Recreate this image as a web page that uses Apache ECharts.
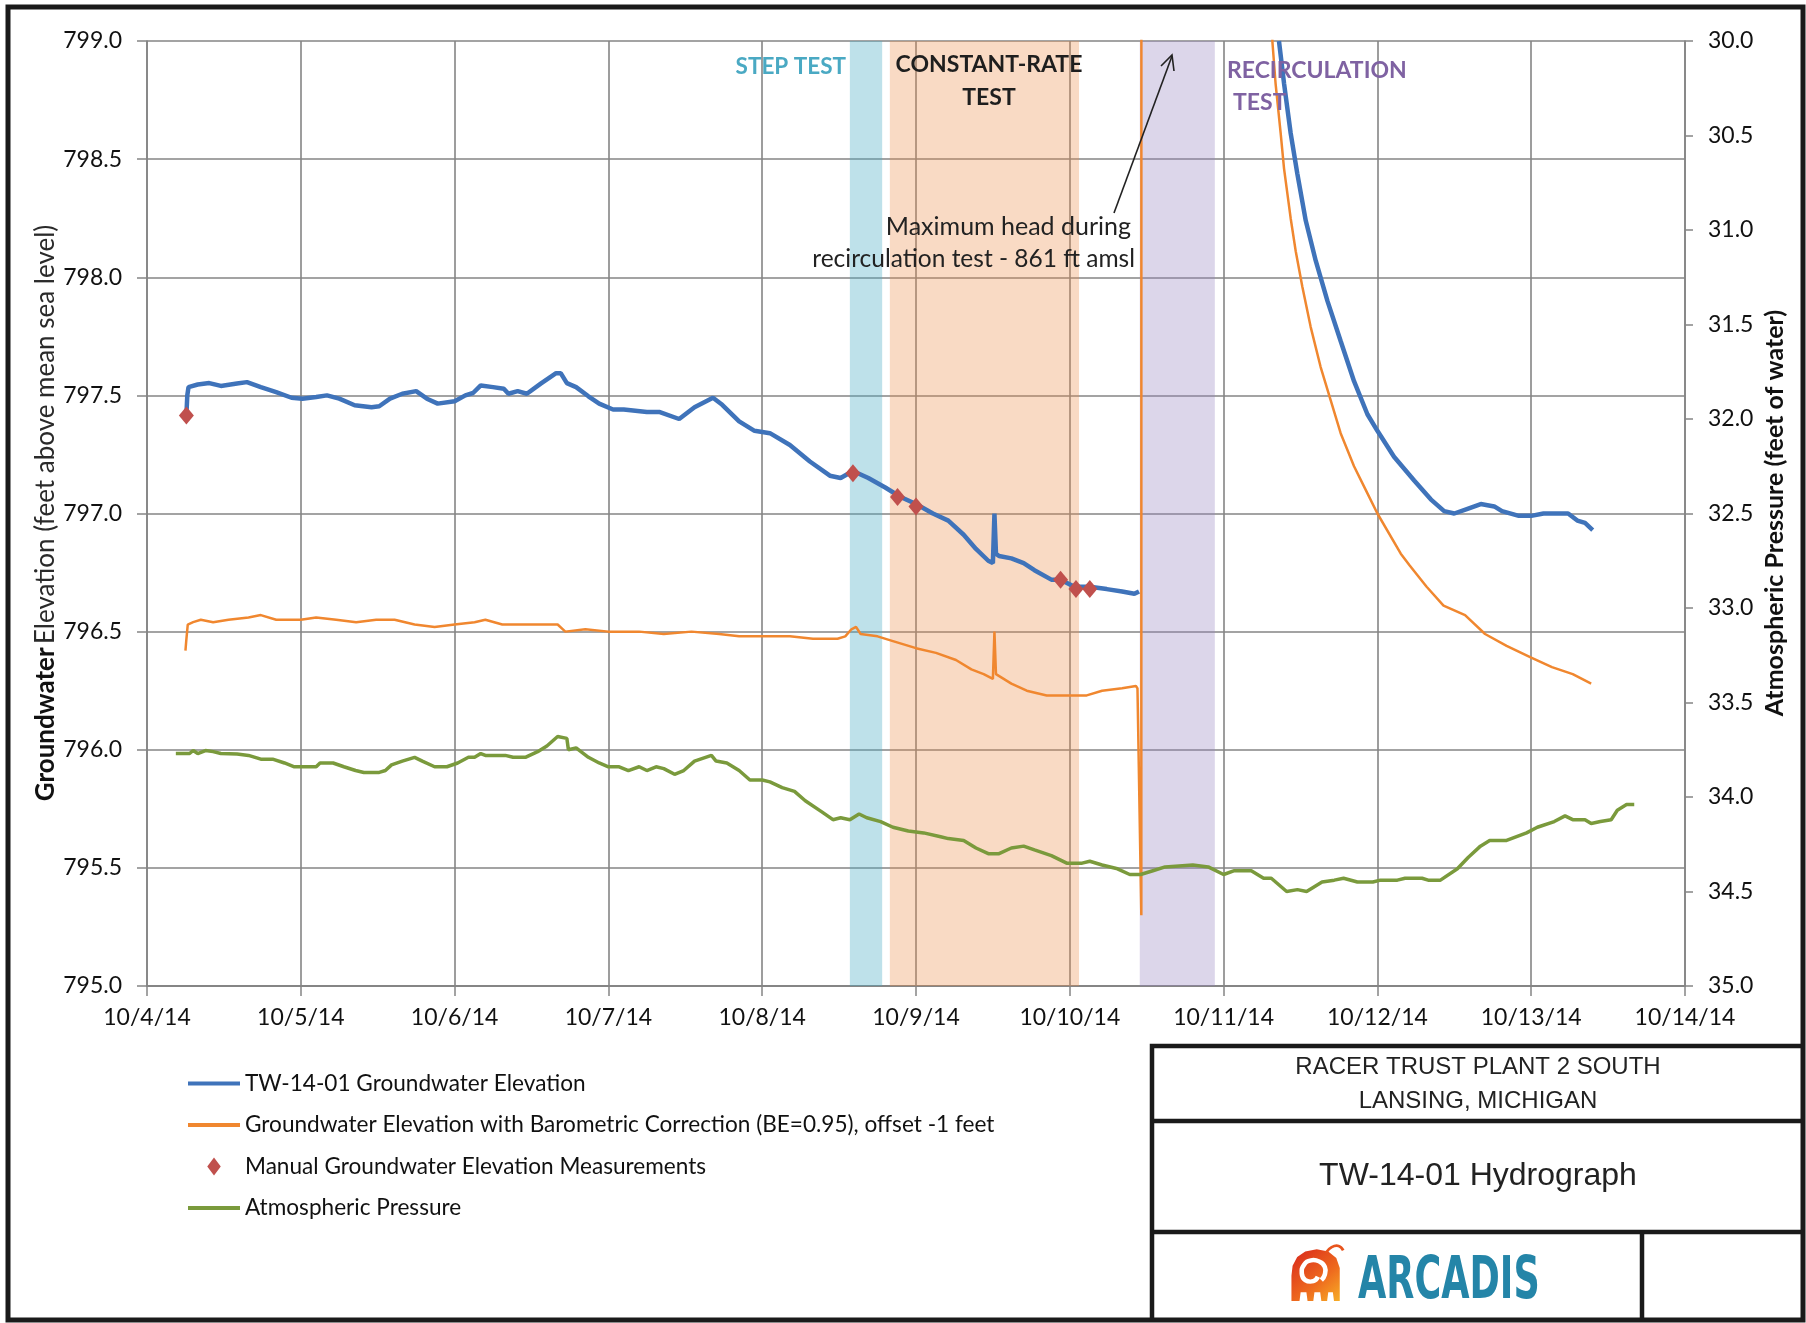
<!DOCTYPE html>
<html>
<head>
<meta charset="utf-8">
<script src="https://cdn.jsdelivr.net/npm/echarts@6/dist/echarts.min.js"></script>
<style>
html,body{margin:0;padding:0;background:#fff;}
#chart{width:1806px;height:1323px;}
</style>
</head>
<body>
<div id="chart"></div>
<script>
// ---- tick labels ----
const xTickLabels = ['10/4/14','10/5/14','10/6/14','10/7/14','10/8/14','10/9/14','10/10/14','10/11/14','10/12/14','10/13/14','10/14/14'];
const leftTickLabels = ['795.0','795.5','796.0','796.5','797.0','797.5','798.0','798.5','799.0'];
const rightTickLabels = ['30.0','30.5','31.0','31.5','32.0','32.5','33.0','33.5','34.0','34.5','35.0'];

// ---- series: [days since 10/4/14, value]; '-' = no data ----
const tw1401Elevation = [
 [0.256,797.415],[0.262,797.50],[0.27,797.535],[0.33,797.546],[0.405,797.552],[0.48,797.54],[0.585,797.55],[0.65,797.556],
 [0.74,797.535],[0.84,797.514],[0.94,797.49],[1.01,797.486],[1.10,797.493],[1.17,797.50],[1.25,797.486],[1.35,797.458],
 [1.46,797.45],[1.51,797.454],[1.58,797.486],[1.66,797.507],[1.75,797.518],[1.82,797.486],[1.89,797.465],[2.0,797.475],
 [2.07,797.50],[2.12,797.51],[2.17,797.542],[2.25,797.535],[2.32,797.528],[2.35,797.507],[2.41,797.518],[2.47,797.507],
 [2.56,797.55],[2.66,797.594],[2.69,797.594],[2.73,797.552],[2.79,797.535],[2.87,797.496],[2.94,797.465],[3.03,797.44],
 [3.10,797.44],[3.25,797.43],[3.33,797.43],[3.46,797.40],[3.56,797.45],[3.68,797.49],[3.74,797.46],[3.85,797.39],
 [3.95,797.35],[4.05,797.34],[4.18,797.29],[4.31,797.22],[4.44,797.16],[4.51,797.15],[4.59,797.18],[4.69,797.15],
 [4.80,797.11],[4.90,797.07],[5.0,797.04],[5.11,797.0],[5.21,796.97],[5.31,796.91],[5.39,796.85],[5.47,796.80],
 [5.50,796.79],[5.51,797.0],[5.52,796.83],[5.54,796.82],[5.62,796.81],[5.70,796.79],[5.77,796.76],[5.88,796.72],
 [5.94,796.72],[6.03,796.69],[6.13,796.69],[6.24,796.68],[6.34,796.67],[6.42,796.66],[6.45,796.67],
 [6.9,'-'],
 [7.36,799.0],[7.393,798.82],[7.436,798.61],[7.479,798.44],[7.534,798.24],[7.599,798.07],[7.675,797.90],[7.761,797.73],
 [7.848,797.56],[7.935,797.42],[8.0,797.35],[8.108,797.24],[8.239,797.14],[8.347,797.06],[8.434,797.01],[8.50,797.0],
 [8.586,797.02],[8.672,797.04],[8.76,797.03],[8.81,797.01],[8.92,796.99],[9.0,796.99],[9.08,797.0],[9.16,797.0],
 [9.24,797.0],[9.30,796.97],[9.35,796.96],[9.40,796.93]
];
const baroCorrected = [
 [0.25,796.42],[0.255,796.46],[0.265,796.53],[0.30,796.54],[0.35,796.55],[0.43,796.54],[0.53,796.55],[0.66,796.56],
 [0.74,796.57],[0.84,796.55],[1.0,796.55],[1.1,796.56],[1.23,796.55],[1.36,796.54],[1.49,796.55],[1.61,796.55],
 [1.74,796.53],[1.87,796.52],[2.0,796.53],[2.13,796.54],[2.20,796.55],[2.31,796.53],[2.38,796.53],[2.51,796.53],
 [2.67,796.53],[2.72,796.50],[2.85,796.51],[3.0,796.50],[3.07,796.50],[3.20,796.50],[3.36,796.49],[3.54,796.50],
 [3.72,796.49],[3.85,796.48],[4.0,796.48],[4.18,796.48],[4.33,796.47],[4.49,796.47],[4.54,796.48],[4.58,796.51],
 [4.61,796.52],[4.64,796.49],[4.75,796.48],[4.85,796.46],[5.0,796.43],[5.13,796.41],[5.26,796.38],[5.36,796.34],
 [5.44,796.32],[5.50,796.30],[5.51,796.50],[5.52,796.32],[5.62,796.28],[5.72,796.25],[5.85,796.23],[5.98,796.23],
 [6.11,796.23],[6.21,796.25],[6.34,796.26],[6.43,796.27],[6.44,796.26],[6.465,795.30],[6.472,860],[6.94,860],
 [7.317,799.0],[7.338,798.82],[7.371,798.61],[7.393,798.46],[7.436,798.25],[7.469,798.11],[7.512,797.96],[7.566,797.79],
 [7.631,797.62],[7.696,797.48],[7.761,797.34],[7.848,797.20],[7.924,797.10],[8.0,797.0],[8.152,796.83],[8.21,796.78],
 [8.32,796.69],[8.43,796.61],[8.57,796.57],[8.70,796.49],[8.84,796.44],[9.0,796.39],[9.135,796.35],[9.27,796.32],[9.39,796.28]
];
const manualMeasurements = [[0.256,797.415],[4.59,797.17],[4.88,797.07],[5.0,797.03],[5.94,796.72],[6.04,796.68],[6.13,796.68]];
const atmosphericPressure = [
 [0.1875,33.77],[0.277,33.77],[0.30,33.754],[0.33,33.77],[0.38,33.754],[0.43,33.76],[0.48,33.77],[0.586,33.773],
 [0.66,33.78],[0.74,33.80],[0.817,33.80],[0.894,33.82],[0.958,33.84],[1.10,33.84],[1.125,33.82],[1.18,33.82],
 [1.21,33.82],[1.28,33.84],[1.356,33.86],[1.41,33.87],[1.51,33.87],[1.55,33.86],[1.59,33.83],[1.66,33.81],
 [1.74,33.79],[1.79,33.81],[1.87,33.84],[1.95,33.84],[2.02,33.82],[2.09,33.79],[2.13,33.79],[2.17,33.77],
 [2.20,33.78],[2.33,33.78],[2.38,33.79],[2.46,33.79],[2.54,33.76],[2.60,33.73],[2.67,33.68],[2.73,33.69],
 [2.74,33.75],[2.79,33.74],[2.87,33.79],[2.94,33.82],[3.0,33.84],[3.07,33.84],[3.13,33.86],[3.20,33.84],
 [3.25,33.86],[3.31,33.84],[3.36,33.85],[3.43,33.88],[3.49,33.86],[3.56,33.81],[3.67,33.78],[3.70,33.81],
 [3.77,33.82],[3.85,33.86],[3.92,33.91],[4.0,33.91],[4.05,33.92],[4.13,33.95],[4.21,33.97],[4.28,34.02],
 [4.39,34.08],[4.46,34.12],[4.51,34.11],[4.57,34.12],[4.63,34.09],[4.68,34.11],[4.77,34.13],[4.85,34.16],
 [4.95,34.18],[5.05,34.19],[5.16,34.21],[5.21,34.22],[5.31,34.23],[5.39,34.27],[5.47,34.30],[5.54,34.30],
 [5.62,34.27],[5.70,34.26],[5.77,34.28],[5.88,34.31],[5.98,34.35],[6.08,34.35],[6.13,34.34],[6.21,34.36],
 [6.31,34.38],[6.39,34.41],[6.46,34.41],[6.54,34.39],[6.62,34.37],[6.80,34.36],[6.90,34.37],[7.0,34.41],
 [7.07,34.39],[7.18,34.39],[7.26,34.43],[7.31,34.43],[7.41,34.50],[7.48,34.49],[7.54,34.50],[7.64,34.45],
 [7.72,34.44],[7.78,34.43],[7.87,34.45],[7.97,34.45],[8.02,34.44],[8.13,34.44],[8.18,34.43],[8.29,34.43],
 [8.33,34.44],[8.41,34.44],[8.52,34.38],[8.59,34.32],[8.67,34.26],[8.73,34.23],[8.84,34.23],[8.97,34.19],
 [9.04,34.16],[9.15,34.13],[9.22,34.10],[9.27,34.12],[9.35,34.12],[9.39,34.14],[9.45,34.13],[9.52,34.12],
 [9.56,34.07],[9.62,34.04],[9.67,34.04]
];
// test periods [start day, end day]
const stepTest = [4.57, 4.78];
const constantRateTest = [4.83, 6.06];
const recirculationTest = [6.455, 6.943];

const seriesNames = [
 'TW-14-01 Groundwater Elevation',
 'Groundwater Elevation with Barometric Correction (BE=0.95), offset -1 feet',
 'Manual Groundwater Elevation Measurements',
 'Atmospheric Pressure'
];

const FONT = 'Lato, "Open Sans", sans-serif';
const GRID = '#858585';
const LINE_ICON = 'path://M0,0H52V4H0Z';
const DIAMOND_ICON = 'path://M6,0L12,8L6,16L0,8Z';

const chart = echarts.init(document.getElementById('chart'), null, {renderer: 'canvas'});

const logoGradient = {type: 'linear', x: 0, y: 0, x2: 1, y2: 1, colorStops: [
 {offset: 0, color: '#d8261c'}, {offset: 0.6, color: '#ee6a1e'}, {offset: 1, color: '#f7ad25'}
]};

const option = {
 animation: false,
 backgroundColor: '#ffffff',
 grid: {left: 147, right: 121, top: 41, bottom: 337, containLabel: false},
 xAxis: {
  type: 'value', min: 0, max: 10, interval: 1,
  axisLine: {show: true, lineStyle: {color: GRID, width: 2}},
  axisTick: {show: true, length: 10, lineStyle: {color: GRID, width: 1.5}},
  axisLabel: {margin: 20, fontSize: 23, fontFamily: FONT, color: '#111',
   formatter: v => xTickLabels[Math.round(v)]},
  splitLine: {show: true, lineStyle: {color: GRID, width: 1.6}}
 },
 yAxis: [{
  type: 'value', min: 795, max: 799, interval: 0.5, position: 'left',
  axisLine: {show: true, lineStyle: {color: GRID, width: 1.6}},
  axisTick: {show: true, length: 10, lineStyle: {color: GRID, width: 1.5}},
  axisLabel: {margin: 25, fontSize: 23, fontFamily: FONT, color: '#111',
   formatter: v => leftTickLabels[Math.round((v - 795) / 0.5)]},
  splitLine: {show: true, lineStyle: {color: GRID, width: 1.6}}
 }, {
  type: 'value', min: 30, max: 35, interval: 0.5, position: 'right', inverse: true,
  axisLine: {show: true, lineStyle: {color: GRID, width: 1.6}},
  axisTick: {show: true, length: 8, lineStyle: {color: GRID, width: 1.5}},
  axisLabel: {margin: 23, fontSize: 23, fontFamily: FONT, color: '#111',
   formatter: v => rightTickLabels[Math.round((v - 30) / 0.5)]},
  splitLine: {show: false}
 }],
 legend: {
  orient: 'vertical', left: 188, top: 1072, padding: 0, itemWidth: 52, itemHeight: 18, itemGap: 18.5,
  symbolKeepAspect: true,
  textStyle: {fontFamily: FONT, fontSize: 22.6, lineHeight: 22, color: '#111'},
  data: [
   {name: seriesNames[0], icon: LINE_ICON},
   {name: seriesNames[1], icon: LINE_ICON},
   {name: seriesNames[2], icon: DIAMOND_ICON},
   {name: seriesNames[3], icon: LINE_ICON}
  ]
 },
 series: [{
  name: 'bands', type: 'line', data: [], z: 1, silent: true,
  markArea: {silent: true, data: [
   [{xAxis: stepTest[0], itemStyle: {color: 'rgba(75,172,198,0.36)'}}, {xAxis: stepTest[1]}],
   [{xAxis: constantRateTest[0], itemStyle: {color: 'rgba(236,140,70,0.32)'}}, {xAxis: constantRateTest[1]}],
   [{xAxis: recirculationTest[0], itemStyle: {color: 'rgba(150,130,190,0.33)'}}, {xAxis: recirculationTest[1]}]
  ]}
 }, {
  name: seriesNames[0], type: 'line', data: tw1401Elevation, yAxisIndex: 0, symbol: 'none', z: 3, connectNulls: false,
  lineStyle: {color: '#3f73ba', width: 4.5}, itemStyle: {color: '#3f73ba'}
 }, {
  name: seriesNames[1], type: 'line', data: baroCorrected, yAxisIndex: 0, symbol: 'none', z: 4,
  lineStyle: {color: '#f0872f', width: 2.5}, itemStyle: {color: '#f0872f'}
 }, {
  name: seriesNames[2], type: 'scatter', data: manualMeasurements, yAxisIndex: 0, symbol: 'diamond',
  symbolSize: [15, 18], z: 5, itemStyle: {color: '#c0504d', opacity: 1}
 }, {
  name: seriesNames[3], type: 'line', data: atmosphericPressure, yAxisIndex: 1, symbol: 'none', z: 6,
  lineStyle: {color: '#7a9a3c', width: 3.5}, itemStyle: {color: '#7a9a3c'}
 }],
 graphic: [
  // outer frame
  {type: 'rect', shape: {x: 8, y: 7, width: 1795, height: 1313}, style: {fill: null, stroke: '#1a1a1a', lineWidth: 5}, z: 100},
  // title block
  {type: 'polyline', shape: {points: [[1152,1320],[1152,1046],[1803,1046]]}, style: {stroke: '#1a1a1a', lineWidth: 4.5, fill: null}, z: 100},
  {type: 'line', shape: {x1: 1152, y1: 1121, x2: 1803, y2: 1121}, style: {stroke: '#1a1a1a', lineWidth: 4.5}, z: 100},
  {type: 'line', shape: {x1: 1152, y1: 1232, x2: 1803, y2: 1232}, style: {stroke: '#1a1a1a', lineWidth: 4.5}, z: 100},
  {type: 'line', shape: {x1: 1642, y1: 1232, x2: 1642, y2: 1320}, style: {stroke: '#1a1a1a', lineWidth: 4.5}, z: 100},
  {type: 'text', x: 1478, y: 1067, style: {text: 'RACER TRUST PLANT 2 SOUTH', fontFamily: '"Liberation Sans", Arial, sans-serif', fontSize: 24, fill: '#222', align: 'center', verticalAlign: 'middle'}, z: 100},
  {type: 'text', x: 1478, y: 1101, style: {text: 'LANSING, MICHIGAN', fontFamily: '"Liberation Sans", Arial, sans-serif', fontSize: 24, fill: '#222', align: 'center', verticalAlign: 'middle'}, z: 100},
  {type: 'text', x: 1478, y: 1176, style: {text: 'TW-14-01 Hydrograph', fontFamily: '"Liberation Sans", Arial, sans-serif', fontSize: 32, fill: '#222', align: 'center', verticalAlign: 'middle'}, z: 100},
  // logo
  {type: 'group', x: 1288, y: 1246, scaleX: 1.15, scaleY: 1.1, z: 100, children: [
   {type: 'polygon', shape: {points: [[3,50],[3,27],[4,18],[8,10],[15,5],[25,3],[35,5],[42,11],[45,20],[45,50],[40,50],[39,42],[35,42],[34,50],[29,50],[28,42],[23,42],[22,50],[17,50],[16,42],[11,42],[10,50]]}, style: {fill: logoGradient}},
   {type: 'polyline', shape: {points: [[33,6],[38,1],[44,0],[48,4]], smooth: 0.5}, style: {stroke: '#e8541d', lineWidth: 2.5, fill: null}},
   {type: 'polyline', shape: {points: [[26,28],[22,32],[15,31],[12,25],[14,17],[20,13],[27,14],[32,19],[32,26],[29,31]], smooth: 0.5}, style: {stroke: '#ffffff', lineWidth: 4, fill: null}}
  ]},
  {type: 'text', x: 1358, y: 1283, scaleX: 0.70, z: 100, style: {text: 'ARCADIS', fontFamily: '"Liberation Sans Narrow", "DejaVu Sans Condensed", sans-serif', fontWeight: 'bold', fontSize: 58, fill: '#2485a8', align: 'left', verticalAlign: 'middle'}},
  // axis titles
  {type: 'text', x: 46, y: 513, rotation: Math.PI / 2, z: 100, style: {
   text: '{b|Groundwater} {r|Elevation (feet above mean sea level)}', align: 'center', verticalAlign: 'middle',
   rich: {b: {fontFamily: FONT, fontWeight: 'bold', fontSize: 26, fill: '#111'}, r: {fontFamily: FONT, fontWeight: 'normal', fontSize: 26, fill: '#2a2a2a'}}}},
  {type: 'text', x: 1775, y: 513, rotation: Math.PI / 2, z: 100, style: {
   text: 'Atmospheric Pressure (feet of water)', align: 'center', verticalAlign: 'middle',
   fontFamily: FONT, fontWeight: 'bold', fontSize: 25, fill: '#111'}},
  // test labels
  {type: 'text', x: 846, y: 67, z: 100, style: {text: 'STEP TEST', fontFamily: FONT, fontWeight: 'bold', fontSize: 22.5, fill: '#4aa9c3', align: 'right', verticalAlign: 'middle'}},
  {type: 'text', x: 989, y: 65, z: 100, style: {text: 'CONSTANT-RATE', fontFamily: FONT, fontWeight: 'bold', fontSize: 23, fill: '#1e1e1e', align: 'center', verticalAlign: 'middle'}},
  {type: 'text', x: 989, y: 98, z: 100, style: {text: 'TEST', fontFamily: FONT, fontWeight: 'bold', fontSize: 23, fill: '#1e1e1e', align: 'center', verticalAlign: 'middle'}},
  {type: 'text', x: 1227, y: 71, z: 100, style: {text: 'RECIRCULATION', fontFamily: FONT, fontWeight: 'bold', fontSize: 23, fill: '#7f62a2', align: 'left', verticalAlign: 'middle'}},
  {type: 'text', x: 1233, y: 103, z: 100, style: {text: 'TEST', fontFamily: FONT, fontWeight: 'bold', fontSize: 23, fill: '#7f62a2', align: 'left', verticalAlign: 'middle'}},
  {type: 'text', x: 1131, y: 227, z: 100, style: {text: 'Maximum head during', fontFamily: FONT, fontSize: 25, fill: '#222', align: 'right', verticalAlign: 'middle'}},
  {type: 'text', x: 1135, y: 259, z: 100, style: {text: 'recirculation test - 861 ft amsl', fontFamily: FONT, fontSize: 24.5, fill: '#222', align: 'right', verticalAlign: 'middle'}},
  // arrow
  {type: 'line', z: 100, shape: {x1: 1114, y1: 213, x2: 1172, y2: 56}, style: {stroke: '#222', lineWidth: 1.6}},
  {type: 'polyline', z: 100, shape: {points: [[1161,66],[1172,55],[1174,71]]}, style: {stroke: '#222', lineWidth: 1.6, fill: null}}
 ]
};
chart.setOption(option);
</script>
</body>
</html>
